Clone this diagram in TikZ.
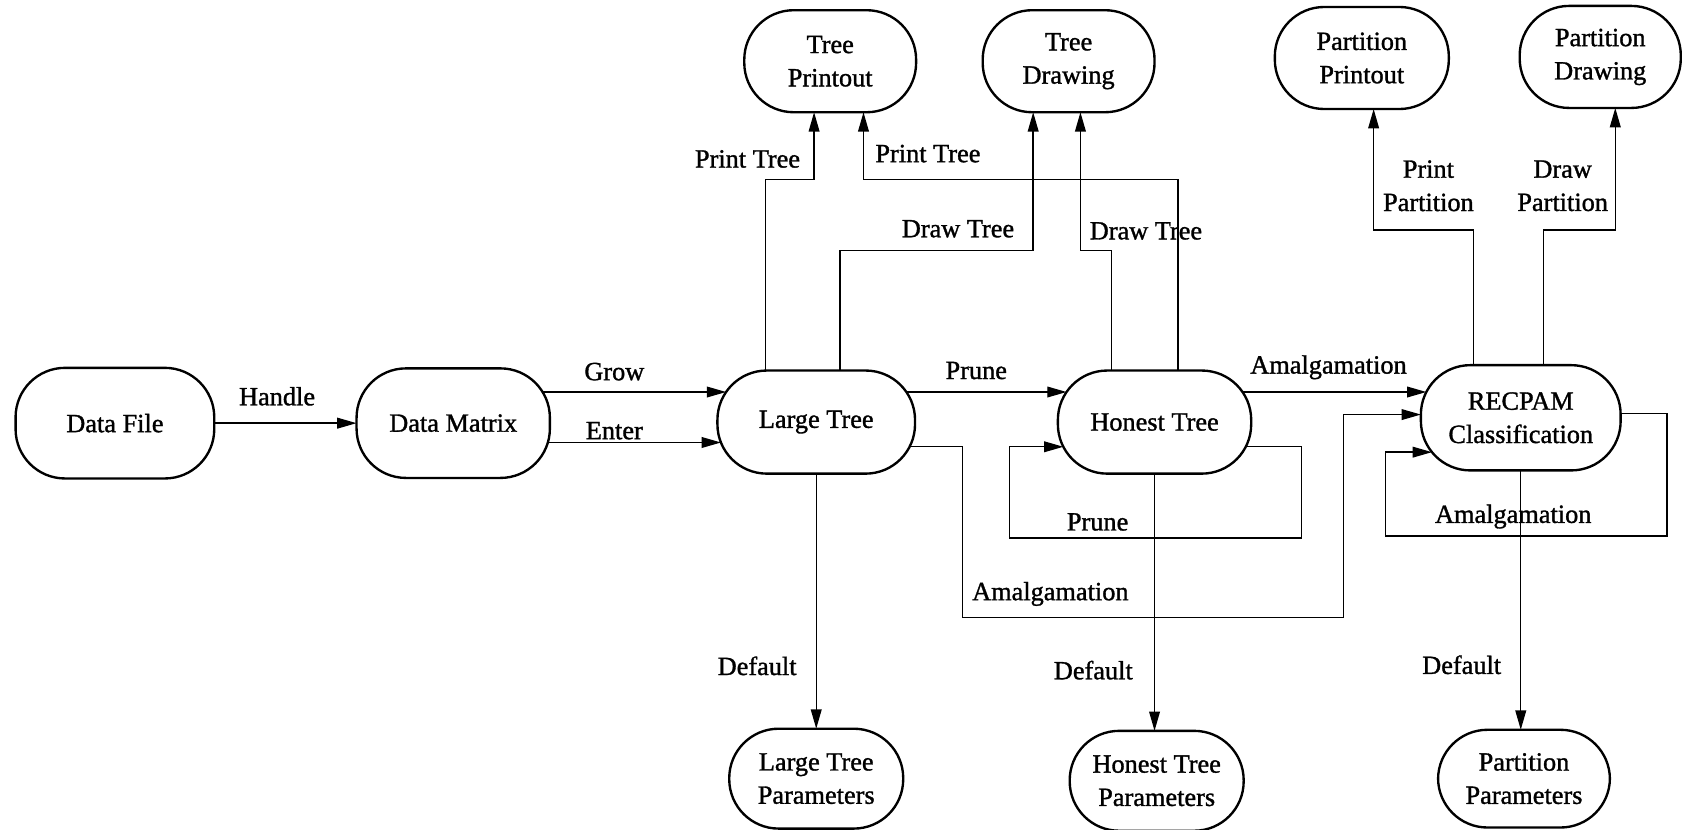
\documentclass[tikz,border=0pt]{standalone}
\usepackage{fontspec}
\setmainfont{Liberation Serif}[BoldFont=Liberation Serif, BoldFeatures={FakeBold=1.2}]
\usetikzlibrary{arrows.meta}
\newcommand\diagfont{\fontsize{24.5pt}{31pt}\selectfont\bfseries}
\begin{document}
\begin{tikzpicture}[x=1pt,y=-1pt,
  box/.style={draw, line width=2.2pt, rounded corners=46pt, minimum height=96pt,
    inner sep=0pt, outer sep=0pt, align=center, font=\diagfont},
  lab/.style={inner sep=0pt, align=center, font=\diagfont},
  arr/.style={line width=1.3pt, -{Triangle[length=18pt,width=10pt]}},
  wire/.style={line width=1.3pt}]
\useasboundingbox (0,0) rectangle (1568,772);

% main row
\node[box, minimum width=185pt, minimum height=103pt] (df) at (107,394) {Data File};
\node[box, minimum width=180pt, minimum height=102pt] (dm) at (422,394) {Data Matrix};
\node[box, minimum width=184pt] (lt) at (760,393) {Large Tree};
\node[box, minimum width=180pt] (ht) at (1075,393) {Honest Tree};
\node[box, minimum width=186pt, minimum height=98pt] (rc) at (1416,389) {RECPAM\\Classification};
% outputs on top
\node[box, minimum width=160pt, minimum height=95pt] (tp) at (773,57) {Tree\\Printout};
\node[box, minimum width=160pt, minimum height=95pt] (td) at (995,57) {Tree\\Drawing};
\node[box, minimum width=162pt, minimum height=95pt] (pp) at (1268,54) {Partition\\Printout};
\node[box, minimum width=150pt, minimum height=95pt] (pd) at (1490,53) {Partition\\Drawing};
% parameters at the bottom
\node[box, minimum width=162pt, minimum height=93pt] (ltp) at (760,725) {Large Tree\\Parameters};
\node[box, minimum width=162pt, minimum height=93pt] (htp) at (1077,727) {Honest Tree\\Parameters};
\node[box, minimum width=160pt, minimum height=91pt] (ppar) at (1419,725) {Partition\\Parameters};

% horizontal levels
\coordinate (yGrow) at (0,365);
\coordinate (yEnter) at (0,412);
\coordinate (yLow) at (0,416);
\coordinate (yMid) at (0,386);
\coordinate (yRcOut) at (0,385);
\coordinate (yRcIn) at (0,421);

% left part
\draw[arr] (df.east) -- (dm.west);
\draw[arr, shorten <=-6.8pt, shorten >=-8.1pt] (dm.east |- yGrow) -- (lt.west |- yGrow);
\draw[arr, shorten <=-1.9pt, shorten >=-3.3pt] (dm.east |- yEnter) -- (lt.west |- yEnter);
\draw[arr, shorten <=-8.1pt, shorten >=-8.1pt] (lt.east |- yGrow) -- (ht.west |- yGrow);
\draw[arr, shorten <=-8.1pt, shorten >=-5.1pt] (ht.east |- yGrow) -- (rc.west |- yGrow);

% print / draw tree
\coordinate (a0) at (713,167); \coordinate (a1) at (758,167);
\draw[arr] (lt.north -| a0) -- (a0) -- (a1) -- (tp.south -| a1);
\coordinate (b0) at (1097,167); \coordinate (b1) at (804,167);
\draw[arr] (ht.north -| b0) -- (b0) -- (b1) -- (tp.south -| b1);
\coordinate (c0) at (782,233); \coordinate (c1) at (962,233);
\draw[arr] (lt.north -| c0) -- (c0) -- (c1) -- (td.south -| c1);
\coordinate (d0) at (1035,233); \coordinate (d1) at (1006,233);
\draw[arr] (ht.north -| d0) -- (d0) -- (d1) -- (td.south -| d1);

% print / draw partition
\coordinate (e0) at (1372,214); \coordinate (e1) at (1279,214);
\draw[arr] (rc.north -| e0) -- (e0) -- (e1) -- (pp.south -| e1);
\coordinate (f0) at (1437,214); \coordinate (f1) at (1504,214);
\draw[arr] (rc.north -| f0) -- (f0) -- (f1) -- (pd.south -| f1);

% defaults
\draw[arr] (lt.south) -- (lt.south |- ltp.north);
\draw[arr] (ht.south) -- (ht.south |- htp.north);
\draw[arr] (rc.south) -- (rc.south |- ppar.north);

% prune loop on the honest tree
\coordinate (g0) at (1212,416); \coordinate (g1) at (1212,501);
\coordinate (g2) at (940,501); \coordinate (g3) at (940,416);
\draw[arr, shorten <=-5.1pt, shorten >=-5.1pt]
  (ht.east |- yLow) -- (g0) -- (g1) -- (g2) -- (g3) -- (ht.west |- yLow);

% amalgamation straight from the large tree
\coordinate (h0) at (896,416); \coordinate (h1) at (896,575);
\coordinate (h2) at (1251,575); \coordinate (h3) at (1251,386);
\draw[arr, shorten <=-5.1pt]
  (lt.east |- yLow) -- (h0) -- (h1) -- (h2) -- (h3) -- (rc.west |- yMid);

% amalgamation loop on the classification
\coordinate (k0) at (1552,385); \coordinate (k1) at (1552,499);
\coordinate (k2) at (1290,499); \coordinate (k3) at (1290,421);
\draw[arr, shorten >=-10.3pt]
  (rc.east |- yRcOut) -- (k0) -- (k1) -- (k2) -- (k3) -- (rc.west |- yRcIn);

% labels
\node[lab] (lHandle) at (258,369) {Handle};
\node[lab] (lGrow) at (572,346) {Grow};
\node[lab] (lEnter) at (572,401) {Enter};
\node[lab] (lPrune) at (909,345) {Prune};
\node[lab] (lAmA) at (1237,342) {Amalgamation};
\node[lab] (lPtA) at (696,148) {Print Tree};
\node[lab] (lPtB) at (864,143) {Print Tree};
\node[lab] (lDtA) at (892,213) {Draw Tree};
\node[lab] (lDtB) at (1067,215) {Draw Tree};
\node[lab] (lPp) at (1330,173) {Print\\Partition};
\node[lab] (lDp) at (1455,173) {Draw\\Partition};
\node[lab] (lPruneB) at (1022,486) {Prune};
\node[lab] (lAmB) at (978,553) {Amalgamation};
\node[lab] (lAmC) at (1409,481) {Amalgamation};
\node[lab] (lDefA) at (705,620) {Default};
\node[lab] (lDefB) at (1018,624) {Default};
\node[lab] (lDefC) at (1361,619) {Default};
\end{tikzpicture}
\end{document}
